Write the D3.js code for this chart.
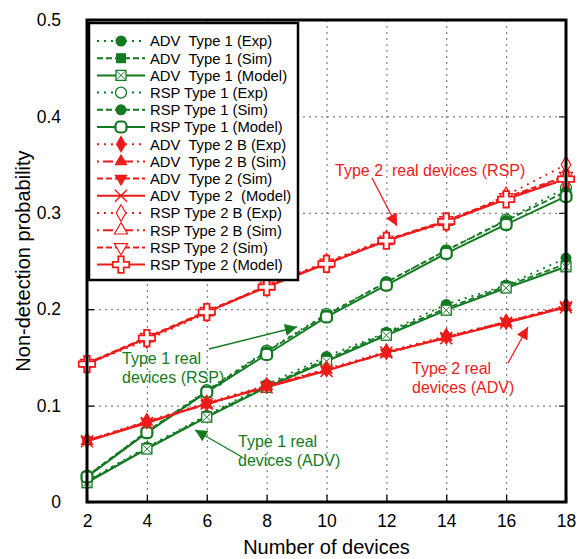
<!DOCTYPE html>
<html>
<head>
<meta charset="utf-8">
<script src="https://cdn.jsdelivr.net/npm/d3@7"></script>
<style>
  body { margin: 0; background: #fff; }
  svg { font-family: Arial, "Liberation Sans", sans-serif; }
</style>
</head>
<body>
<div id="chart"></div>
<script>
// x values (number of devices)
const devices = [2, 4, 6, 8, 10, 12, 14, 16, 18];
const yTicks = [0, 0.1, 0.2, 0.3, 0.4, 0.5];

// Type 1 (green)
const advType1Exp   = [0.022, 0.057, 0.090, 0.122, 0.151, 0.176, 0.205, 0.225, 0.253];
const advType1Sim   = [0.021, 0.056, 0.089, 0.120, 0.148, 0.175, 0.201, 0.224, 0.247];
const advType1Model = [0.020, 0.055, 0.088, 0.119, 0.146, 0.173, 0.199, 0.222, 0.244];
const rspType1Exp   = [0.027, 0.073, 0.116, 0.157, 0.195, 0.228, 0.261, 0.293, 0.326];
const rspType1Sim   = [0.027, 0.073, 0.115, 0.156, 0.194, 0.228, 0.261, 0.292, 0.322];
const rspType1Model = [0.026, 0.072, 0.114, 0.153, 0.192, 0.225, 0.258, 0.288, 0.317];

// Type 2 (red)
const advType2BExp  = [0.064, 0.084, 0.103, 0.121, 0.138, 0.156, 0.172, 0.187, 0.204];
const advType2BSim  = [0.063, 0.083, 0.101, 0.120, 0.137, 0.154, 0.171, 0.186, 0.202];
const advType2Sim   = [0.064, 0.083, 0.102, 0.120, 0.137, 0.155, 0.171, 0.187, 0.203];
const advType2Model = [0.063, 0.082, 0.102, 0.119, 0.136, 0.155, 0.170, 0.186, 0.202];
const rspType2BExp  = [0.143, 0.168, 0.196, 0.225, 0.249, 0.273, 0.289, 0.318, 0.350];
const rspType2BSim  = [0.144, 0.170, 0.197, 0.224, 0.247, 0.271, 0.291, 0.315, 0.337];
const rspType2Sim   = [0.144, 0.171, 0.198, 0.224, 0.248, 0.272, 0.292, 0.316, 0.338];
const rspType2Model = [0.143, 0.170, 0.197, 0.223, 0.247, 0.271, 0.291, 0.314, 0.335];

const green = '#137a22';
const red = '#ee1b1b';

// styling per series (legend order)
const series = [
  {label: 'ADV  Type 1 (Exp)',    values: advType1Exp,   color: green, dash: '2,5',  marker: 'circleFilled'},
  {label: 'ADV  Type 1 (Sim)',    values: advType1Sim,   color: green, dash: '6,3',  marker: 'squareFilled'},
  {label: 'ADV  Type 1 (Model)',  values: advType1Model, color: green, dash: null,   marker: 'boxX'},
  {label: 'RSP Type 1 (Exp)',     values: rspType1Exp,   color: green, dash: '2,5',  marker: 'circleOpen'},
  {label: 'RSP Type 1 (Sim)',     values: rspType1Sim,   color: green, dash: '6,3',  marker: 'circleFilled'},
  {label: 'RSP Type 1 (Model)',   values: rspType1Model, color: green, dash: null,   marker: 'roundOpen'},
  {label: 'ADV  Type 2 B (Exp)',  values: advType2BExp,  color: red,   dash: '2,5',  marker: 'diamondFilled'},
  {label: 'ADV  Type 2 B (Sim)',  values: advType2BSim,  color: red,   dash: '2,4,10,4', marker: 'triangleFilled'},
  {label: 'ADV  Type 2 (Sim)',    values: advType2Sim,   color: red,   dash: '6,3',  marker: 'triangleDownFilled'},
  {label: 'ADV  Type 2  (Model)', values: advType2Model, color: red,   dash: null,   marker: 'times'},
  {label: 'RSP Type 2 B (Exp)',   values: rspType2BExp,  color: red,   dash: '2,5',  marker: 'diamondOpen'},
  {label: 'RSP Type 2 B (Sim)',   values: rspType2BSim,  color: red,   dash: '2,4,10,4', marker: 'triangleOpen'},
  {label: 'RSP Type 2 (Sim)',     values: rspType2Sim,   color: red,   dash: '6,3',  marker: 'triangleDownOpen'},
  {label: 'RSP Type 2 (Model)',   values: rspType2Model, color: red,   dash: null,   marker: 'plusOpen'}
];

const width = 578, height = 559;
const margin = {top: 20, right: 12, bottom: 57, left: 87};

const svg = d3.select('#chart').append('svg')
  .attr('width', width)
  .attr('height', height);

const xScale = d3.scaleLinear().domain([2, 18]).range([margin.left, width - margin.right]);
const yScale = d3.scaleLinear().domain([0, 0.5]).range([height - margin.bottom, margin.top]);
const plotW = width - margin.left - margin.right;
const plotH = height - margin.top - margin.bottom;

// grid
svg.append('g')
  .attr('transform', `translate(0,${height - margin.bottom})`)
  .call(d3.axisBottom(xScale).tickValues(devices.slice(1, -1)).tickSize(-plotH).tickFormat(''))
  .call(g => g.select('.domain').remove())
  .selectAll('line').attr('stroke', '#666').attr('stroke-dasharray', '2,4');
svg.append('g')
  .attr('transform', `translate(${margin.left},0)`)
  .call(d3.axisLeft(yScale).tickValues(yTicks.slice(1, -1)).tickSize(-plotW).tickFormat(''))
  .call(g => g.select('.domain').remove())
  .selectAll('line').attr('stroke', '#666').attr('stroke-dasharray', '2,4');

// axes with inward ticks
const xAxis = svg.append('g')
  .attr('transform', `translate(0,${height - margin.bottom})`)
  .call(d3.axisBottom(xScale).tickValues(devices).tickSize(-7).tickPadding(13));
const yAxis = svg.append('g')
  .attr('transform', `translate(${margin.left},0)`)
  .call(d3.axisLeft(yScale).tickValues(yTicks).tickSize(-7).tickPadding(26).tickFormat(d3.format('')));
svg.append('g')
  .attr('transform', `translate(${width - margin.right},0)`)
  .call(d3.axisRight(yScale).tickValues(yTicks).tickSize(-7).tickFormat(''));
[xAxis, yAxis].forEach(a => {
  a.select('.domain').remove();
  a.selectAll('line').attr('stroke', '#000').attr('stroke-width', 1.3);
  a.selectAll('text').attr('fill', '#000').style('font-size', '17.5px').style('font-family', 'Arial, "Liberation Sans", sans-serif');
});

// markers
function drawMarker(g, type, color, x, y) {
  const m = g.append('g').attr('transform', `translate(${x},${y})`);
  const sym = (t, size) => d3.symbol().type(t).size(size)();
  switch (type) {
    case 'circleFilled':
      m.append('circle').attr('r', 5.5).attr('fill', color); break;
    case 'circleOpen':
      m.append('circle').attr('r', 5.5).attr('fill', '#fff').attr('stroke', color).attr('stroke-width', 1.3); break;
    case 'roundOpen':
      m.append('rect').attr('x', -5.5).attr('y', -5.5).attr('width', 11).attr('height', 11).attr('rx', 4)
        .attr('fill', '#fff').attr('stroke', color).attr('stroke-width', 2.2); break;
    case 'squareFilled':
      m.append('rect').attr('x', -5).attr('y', -5).attr('width', 10).attr('height', 10).attr('fill', color); break;
    case 'boxX':
      m.append('rect').attr('x', -5).attr('y', -5).attr('width', 10).attr('height', 10)
        .attr('fill', '#fff').attr('stroke', color).attr('stroke-width', 1.3);
      m.append('path').attr('d', 'M-4,-4L4,4M-4,4L4,-4').attr('stroke', color).attr('stroke-width', 1); break;
    case 'diamondFilled':
      m.append('path').attr('d', sym(d3.symbolDiamond, 90)).attr('fill', color); break;
    case 'diamondOpen':
      m.append('path').attr('d', sym(d3.symbolDiamond, 80)).attr('fill', '#fff').attr('stroke', color).attr('stroke-width', 1.2); break;
    case 'triangleFilled':
      m.append('path').attr('d', sym(d3.symbolTriangle, 75)).attr('fill', color); break;
    case 'triangleOpen':
      m.append('path').attr('d', sym(d3.symbolTriangle, 75)).attr('fill', '#fff').attr('stroke', color).attr('stroke-width', 1.2); break;
    case 'triangleDownFilled':
      m.append('path').attr('d', sym(d3.symbolTriangle, 75)).attr('transform', 'rotate(180)').attr('fill', color); break;
    case 'triangleDownOpen':
      m.append('path').attr('d', sym(d3.symbolTriangle, 75)).attr('transform', 'rotate(180)').attr('fill', '#fff').attr('stroke', color).attr('stroke-width', 1.2); break;
    case 'times':
      m.append('path').attr('d', 'M-6,-6L6,6M-6,6L6,-6').attr('stroke', color).attr('stroke-width', 1.5); break;
    case 'plusOpen':
      m.append('path').attr('d', sym(d3.symbolCross, 150)).attr('fill', '#fff').attr('stroke', color).attr('stroke-width', 1.8); break;
  }
}

const line = d3.line().x((d, i) => xScale(devices[i])).y(d => yScale(d));

const plot = svg.append('g');
series.forEach(s => {
  plot.append('path')
    .attr('d', line(s.values))
    .attr('fill', 'none')
    .attr('stroke', s.color)
    .attr('stroke-width', s.dash ? 1.8 : 2)
    .attr('stroke-dasharray', s.dash);
});
series.forEach(s => {
  s.values.forEach((v, i) => drawMarker(plot, s.marker, s.color, xScale(devices[i]), yScale(v)));
});

// frame
svg.append('rect')
  .attr('x', margin.left).attr('y', margin.top)
  .attr('width', plotW).attr('height', plotH)
  .attr('fill', 'none').attr('stroke', '#000').attr('stroke-width', 3);

// legend
const legend = svg.append('g');
legend.append('rect')
  .attr('x', 89).attr('y', 23).attr('width', 209).attr('height', 257)
  .attr('fill', '#fff').attr('stroke', '#000').attr('stroke-width', 2.5);
series.forEach((s, i) => {
  const ly = 41 + i * 17.2;
  legend.append('line')
    .attr('x1', 97).attr('x2', 145).attr('y1', ly).attr('y2', ly)
    .attr('stroke', s.color).attr('stroke-width', 2).attr('stroke-dasharray', s.dash);
  drawMarker(legend, s.marker, s.color, 121, ly);
  legend.append('text')
    .attr('x', 150).attr('y', ly)
    .attr('dy', '0.36em')
    .style('font-size', '14.8px')
    .style('white-space', 'pre')
    .text(s.label);
});

// annotations
const defs = svg.append('defs');
[['arrG', green], ['arrR', red]].forEach(([id, c]) => {
  defs.append('marker').attr('id', id)
    .attr('viewBox', '0 0 10 10').attr('refX', 10).attr('refY', 5)
    .attr('markerWidth', 16).attr('markerHeight', 12).attr('markerUnits', 'userSpaceOnUse')
    .attr('orient', 'auto')
    .append('path').attr('d', 'M0,0L10,5L0,10Z').attr('fill', c);
});
function note(lines, x, y, color) {
  lines.forEach((t, i) => {
    svg.append('text').attr('x', x).attr('y', y + i * 19)
      .attr('fill', color).style('font-size', '16px').style('white-space', 'pre').text(t);
  });
}
function arrow(x1, y1, x2, y2, id, color) {
  svg.append('line').attr('x1', x1).attr('y1', y1).attr('x2', x2).attr('y2', y2)
    .attr('stroke', color).attr('stroke-width', 1.3).attr('marker-end', `url(#${id})`);
}
note(['Type 2  real devices (RSP)'], 335, 176, red);
arrow(372, 178, 397, 226, 'arrR', red);
note(['Type 1 real', 'devices (RSP)'], 122, 364, green);
arrow(209, 349, 297, 327, 'arrG', green);
note(['Type 1 real', 'devices (ADV)'], 238, 447, green);
arrow(242, 457, 195, 430, 'arrG', green);
note(['Type 2 real', 'devices (ADV)'], 412, 374, red);
arrow(508, 363, 528, 327, 'arrR', red);

// axis titles
svg.append('text')
  .attr('x', xScale(10)).attr('y', 554)
  .attr('text-anchor', 'middle')
  .style('font-size', '20px')
  .text('Number of devices');
svg.append('text')
  .attr('transform', `translate(30,${yScale(0.25)}) rotate(-90)`)
  .attr('text-anchor', 'middle')
  .style('font-size', '20px')
  .text('Non-detection probability');
</script>
</body>
</html>
